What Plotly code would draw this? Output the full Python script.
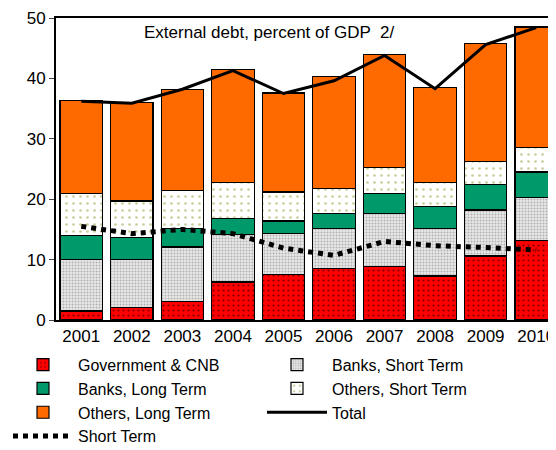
import plotly.graph_objects as go

years = ["2001", "2002", "2003", "2004", "2005", "2006", "2007", "2008", "2009", "2010"]
gov_cnb = [1.5, 2.1, 3.0, 6.3, 7.5, 8.5, 8.8, 7.3, 10.6, 13.2]
banks_short = [8.5, 7.9, 9.1, 7.8, 6.8, 6.6, 8.8, 7.8, 7.6, 7.1]
banks_long = [4.0, 3.6, 3.0, 2.7, 2.1, 2.5, 3.4, 3.7, 4.2, 4.2]
others_short = [7.0, 6.1, 6.4, 6.0, 4.8, 4.2, 4.2, 4.0, 3.9, 4.1]
others_long = [15.3, 16.3, 16.7, 18.7, 16.4, 18.5, 18.8, 15.7, 19.5, 19.9]
total = [36.2, 35.9, 38.2, 41.3, 37.5, 39.6, 43.8, 38.3, 45.6, 48.4]
short_term = [15.5, 14.3, 15.0, 14.3, 11.9, 10.7, 13.0, 12.3, 12.0, 11.6]

line = dict(color="black", width=1.2)
fig = go.Figure()
fig.add_trace(go.Bar(x=years, y=gov_cnb, name="Government & CNB",
                     marker=dict(color="#ff0000", line=line,
                                 pattern=dict(shape=".", fgcolor="black", size=5, solidity=0.15))))
fig.add_trace(go.Bar(x=years, y=banks_short, name="Banks, Short Term",
                     marker=dict(color="#e8e8e8", line=line,
                                 pattern=dict(shape=".", fgcolor="#777777", size=3, solidity=0.35))))
fig.add_trace(go.Bar(x=years, y=banks_long, name="Banks, Long Term",
                     marker=dict(color="#00996a", line=line)))
fig.add_trace(go.Bar(x=years, y=others_short, name="Others, Short Term",
                     marker=dict(color="white", line=line,
                                 pattern=dict(shape=".", fgcolor="#999933", size=7, solidity=0.12))))
fig.add_trace(go.Bar(x=years, y=others_long, name="Others, Long Term",
                     marker=dict(color="#ff6a00", line=line)))
fig.add_trace(go.Scatter(x=years, y=total, name="Total", mode="lines",
                         line=dict(color="black", width=3)))
fig.add_trace(go.Scatter(x=years, y=short_term, name="Short Term", mode="lines",
                         line=dict(color="black", width=5, dash="dot")))

fig.update_layout(
    barmode="stack", bargap=0.16,
    width=556, height=450,
    margin=dict(l=48, r=0, t=10, b=138, autoexpand=False),
    plot_bgcolor="white", paper_bgcolor="white",
    font=dict(family="Liberation Sans, Arial", size=17, color="black"),
    legend=dict(orientation="h", x=0.0, xref="container", y=0.245, yref="container",
                xanchor="left", yanchor="top",
                entrywidthmode="fraction", entrywidth=0.5, traceorder="normal",
                font=dict(size=16), tracegroupgap=0, itemwidth=60,
                bgcolor="rgba(0,0,0,0)"),
    annotations=[dict(text="External debt, percent of GDP  2/", x=0.42, y=49.5,
                      xref="paper", yref="y", showarrow=False, yanchor="top",
                      font=dict(size=17))],
)
fig.update_xaxes(showline=True, linecolor="black", linewidth=2, ticks="",
                 range=[-0.5, 9.55], mirror=True)
fig.update_yaxes(range=[0, 50], dtick=10, showgrid=False, showline=True,
                 linecolor="black", linewidth=2, ticks="outside", ticklen=5, mirror=True)
fig.write_html("out.html")
